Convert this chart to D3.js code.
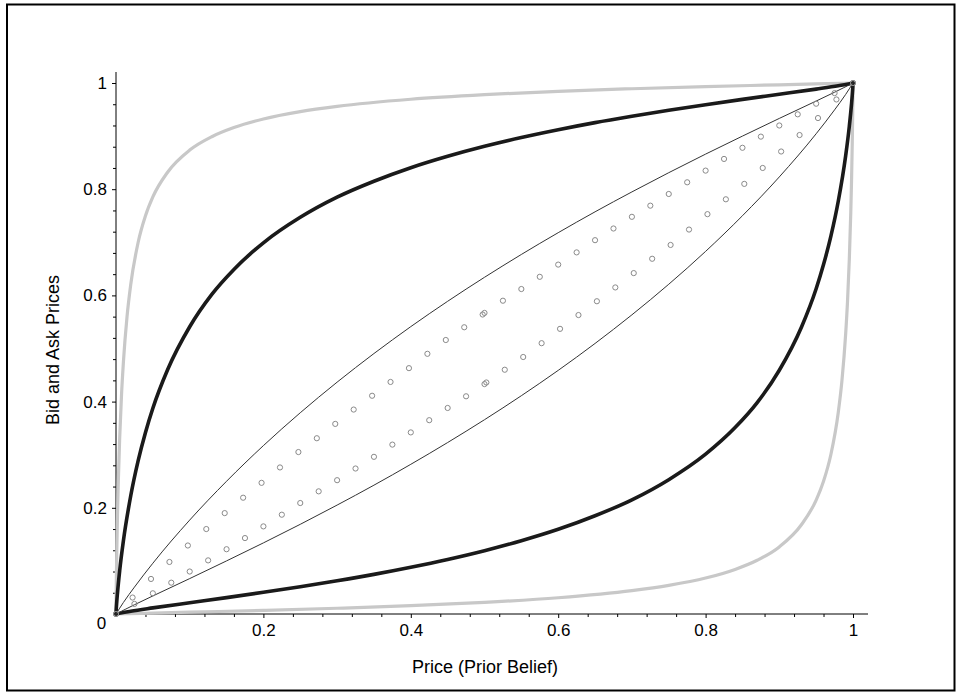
<!DOCTYPE html>
<html>
<head>
<meta charset="utf-8">
<script src="https://cdn.jsdelivr.net/npm/d3@7"></script>
<style>
  html, body { margin: 0; padding: 0; background: #fff; }
  svg { display: block; }
  text { font-family: "Liberation Sans", Arial, sans-serif; fill: #000; }
</style>
</head>
<body>
<svg id="chart" width="956" height="692"></svg>
<script>
// ---- data ----
const xTickValues = [0.2, 0.4, 0.6, 0.8, 1];
const yTickValues = [0.2, 0.4, 0.6, 0.8, 1];
const xTitle = "Price (Prior Belief)";
const yTitle = "Bid and Ask Prices";

// light grey outer ask / bid curves
const grayAskX = [0,0.0002,0.0005,0.001,0.002,0.003,0.005,0.0075,0.01,0.015,0.02,0.03,0.04,0.05,0.07,0.1,0.13,0.16,0.2,0.25,0.3,0.4,0.5,0.6,0.7,0.8,0.9,1];
const grayAskY = [0,0.031,0.0654,0.112,0.185,0.243,0.332,0.413,0.4735,0.5604,0.6205,0.6996,0.75,0.7855,0.832,0.8736,0.8988,0.916,0.9323,0.9461,0.956,0.9694,0.9781,0.9844,0.9892,0.9932,0.9966,1];
const grayBidX = [0,0.1,0.2,0.3,0.4,0.5,0.6,0.7,0.75,0.8,0.84,0.87,0.9,0.93,0.95,0.96,0.97,0.98,0.985,0.99,0.9925,0.995,0.997,0.998,0.999,0.9995,0.9998,1];
const grayBidY = [0,0.0034,0.0068,0.0108,0.0156,0.0219,0.0306,0.044,0.0539,0.0677,0.084,0.1012,0.1264,0.168,0.2145,0.25,0.3004,0.3795,0.4396,0.5265,0.587,0.668,0.757,0.815,0.888,0.9346,0.969,1];

// thick black ask / bid curves
const thickAskX = [0,0.0002,0.001,0.002,0.005,0.01,0.02,0.03,0.04,0.05,0.07,0.1,0.13,0.16,0.2,0.25,0.3,0.35,0.4,0.45,0.5,0.55,0.6,0.65,0.7,0.75,0.8,0.85,0.9,0.95,0.98,1];
const thickAskY = [0,0.006,0.0226,0.0396,0.0817,0.1374,0.2227,0.2884,0.342,0.3875,0.46,0.541,0.602,0.649,0.699,0.747,0.785,0.815,0.8405,0.862,0.8808,0.8973,0.912,0.9254,0.9374,0.9487,0.9592,0.9692,0.9788,0.9885,0.9948,1];
const thickBidX = [0,0.02,0.05,0.1,0.15,0.2,0.25,0.3,0.35,0.4,0.45,0.5,0.55,0.6,0.65,0.7,0.75,0.8,0.84,0.87,0.9,0.93,0.95,0.96,0.97,0.98,0.99,0.995,0.998,0.999,0.9998,1];
const thickBidY = [0,0.0052,0.0115,0.0212,0.0308,0.0408,0.0513,0.0626,0.0746,0.088,0.1027,0.1192,0.138,0.1595,0.185,0.215,0.253,0.301,0.351,0.398,0.459,0.54,0.6125,0.658,0.7116,0.7773,0.8626,0.9183,0.9604,0.9774,0.994,1];

// thin black ask / bid curves
const thinAskX = [0,0.01,0.025,0.05,0.1,0.15,0.2,0.25,0.3,0.35,0.4,0.45,0.5,0.55,0.6,0.65,0.7,0.75,0.8,0.85,0.9,0.95,0.975,1];
const thinAskY = [0,0.0216,0.0506,0.0956,0.1769,0.25,0.3171,0.379,0.4366,0.4905,0.5412,0.5889,0.6341,0.6771,0.7181,0.7574,0.7949,0.8311,0.8661,0.9,0.9333,0.966,0.9826,1];
const thinBidX = [0,0.025,0.05,0.1,0.15,0.2,0.25,0.3,0.35,0.4,0.45,0.5,0.55,0.6,0.65,0.7,0.75,0.8,0.85,0.9,0.95,0.975,0.99,1];
const thinBidY = [0,0.0174,0.034,0.0667,0.1,0.1339,0.1689,0.2051,0.2426,0.2819,0.3229,0.3659,0.4111,0.4588,0.5095,0.5634,0.621,0.6829,0.75,0.8231,0.9044,0.9494,0.9784,1];

// circle markers (ask above, bid below)
const askDotsX = [0,0.0225,0.0475,0.0725,0.0975,0.1225,0.1475,0.1725,0.1975,0.2225,0.2475,0.2725,0.2975,0.3225,0.3475,0.3725,0.3975,0.4225,0.4475,0.4725,0.4975,0.5,0.525,0.55,0.575,0.6,0.625,0.65,0.675,0.7,0.725,0.75,0.775,0.8,0.825,0.85,0.875,0.9,0.925,0.95,0.975,1];
const askDotsY = [0,0.031,0.066,0.098,0.129,0.16,0.19,0.219,0.247,0.276,0.305,0.331,0.358,0.385,0.411,0.437,0.463,0.49,0.516,0.54,0.564,0.567,0.59,0.612,0.635,0.658,0.681,0.704,0.726,0.748,0.769,0.791,0.813,0.835,0.857,0.878,0.899,0.92,0.941,0.961,0.981,1];
const bidDotsX = [0,0.025,0.05,0.075,0.1,0.125,0.15,0.175,0.2,0.225,0.25,0.275,0.3,0.325,0.35,0.375,0.4,0.425,0.45,0.475,0.5,0.5025,0.5275,0.5525,0.5775,0.6025,0.6275,0.6525,0.6775,0.7025,0.7275,0.7525,0.7775,0.8025,0.8275,0.8525,0.8775,0.9025,0.9275,0.9525,0.9775,1];
const bidDotsY = [0,0.019,0.039,0.059,0.08,0.101,0.122,0.143,0.165,0.187,0.209,0.231,0.252,0.274,0.296,0.319,0.342,0.365,0.388,0.41,0.433,0.436,0.46,0.484,0.51,0.537,0.563,0.589,0.615,0.642,0.669,0.695,0.724,0.753,0.781,0.81,0.84,0.871,0.902,0.934,0.969,1];

// ---- drawing ----
const svg = d3.select("#chart");
const x = d3.scaleLinear().domain([0, 1]).range([116, 853]);
const y = d3.scaleLinear().domain([0, 1]).range([614, 83]);

// outer frame
svg.append("rect")
  .attr("x", 7).attr("y", 4.5).attr("width", 947.5).attr("height", 686)
  .attr("fill", "none").attr("stroke", "#000").attr("stroke-width", 2);

const zip = (xs, ys) => xs.map((v, i) => [v, ys[i]]);
const line = d3.line().x(d => x(d[0])).y(d => y(d[1])).curve(d3.curveMonotoneX);

const series = [
  { xs: grayAskX, ys: grayAskY, color: "#c8c8c8", w: 3.2 },
  { xs: grayBidX, ys: grayBidY, color: "#c8c8c8", w: 3.2 },
  { xs: thickAskX, ys: thickAskY, color: "#1a1a1a", w: 3.6 },
  { xs: thickBidX, ys: thickBidY, color: "#1a1a1a", w: 3.6 },
  { xs: thinAskX, ys: thinAskY, color: "#333333", w: 1 },
  { xs: thinBidX, ys: thinBidY, color: "#333333", w: 1 }
];

// axes
const minorTicks = d3.range(1, 25).map(i => i * 0.04).filter(v => Math.abs(v * 5 - Math.round(v * 5)) > 1e-6);

const gx = svg.append("g").attr("transform", `translate(0,${y(0)})`);
gx.call(d3.axisBottom(x).tickValues(minorTicks).tickSize(3).tickFormat(""));
gx.call(g => g.select(".domain").remove());
const gx2 = svg.append("g").attr("transform", `translate(0,${y(0)})`);
gx2.call(d3.axisBottom(x).tickValues(xTickValues).tickSize(4).tickPadding(6).tickFormat(d => String(d)));
gx2.call(g => g.select(".domain").remove());

const gy = svg.append("g").attr("transform", `translate(${x(0)},0)`);
gy.call(d3.axisLeft(y).tickValues(minorTicks).tickSize(3).tickFormat(""));
gy.call(g => g.select(".domain").remove());
const gy2 = svg.append("g").attr("transform", `translate(${x(0)},0)`);
gy2.call(d3.axisLeft(y).tickValues(yTickValues).tickSize(4).tickPadding(5).tickFormat(d => String(d)));
gy2.call(g => g.select(".domain").remove());

svg.selectAll(".tick text").style("font-size", "17px").style("font-family", '"Liberation Sans", Arial, sans-serif');
svg.selectAll(".tick line").attr("stroke", "#000");

svg.append("line").attr("x1", x(0)).attr("x2", 868).attr("y1", y(0)).attr("y2", y(0))
  .attr("stroke", "#000").attr("stroke-width", 1);
svg.append("line").attr("x1", x(0)).attr("x2", x(0)).attr("y1", y(0)).attr("y2", 72)
  .attr("stroke", "#000").attr("stroke-width", 1);

svg.append("text").attr("x", 101.5).attr("y", 628.5).attr("text-anchor", "middle")
  .style("font-size", "17px").text("0");

// curves
series.forEach(s => {
  svg.append("path").datum(zip(s.xs, s.ys))
    .attr("d", line).attr("fill", "none")
    .attr("stroke", s.color).attr("stroke-width", s.w)
    .attr("stroke-linejoin", "round").attr("stroke-linecap", "round");
});

// markers
[zip(askDotsX, askDotsY), zip(bidDotsX, bidDotsY)].forEach(pts => {
  svg.append("g").selectAll("circle").data(pts).join("circle")
    .attr("cx", d => x(d[0])).attr("cy", d => y(d[1])).attr("r", 2.6)
    .attr("fill", "none").attr("stroke", "#8a8a8a").attr("stroke-width", 1);
});

// titles
svg.append("text").attr("x", 485).attr("y", 673).attr("text-anchor", "middle")
  .style("font-size", "18px").text(xTitle);
svg.append("text").attr("transform", "translate(59,350) rotate(-90)").attr("text-anchor", "middle")
  .style("font-size", "18px").text(yTitle);
</script>
</body>
</html>
